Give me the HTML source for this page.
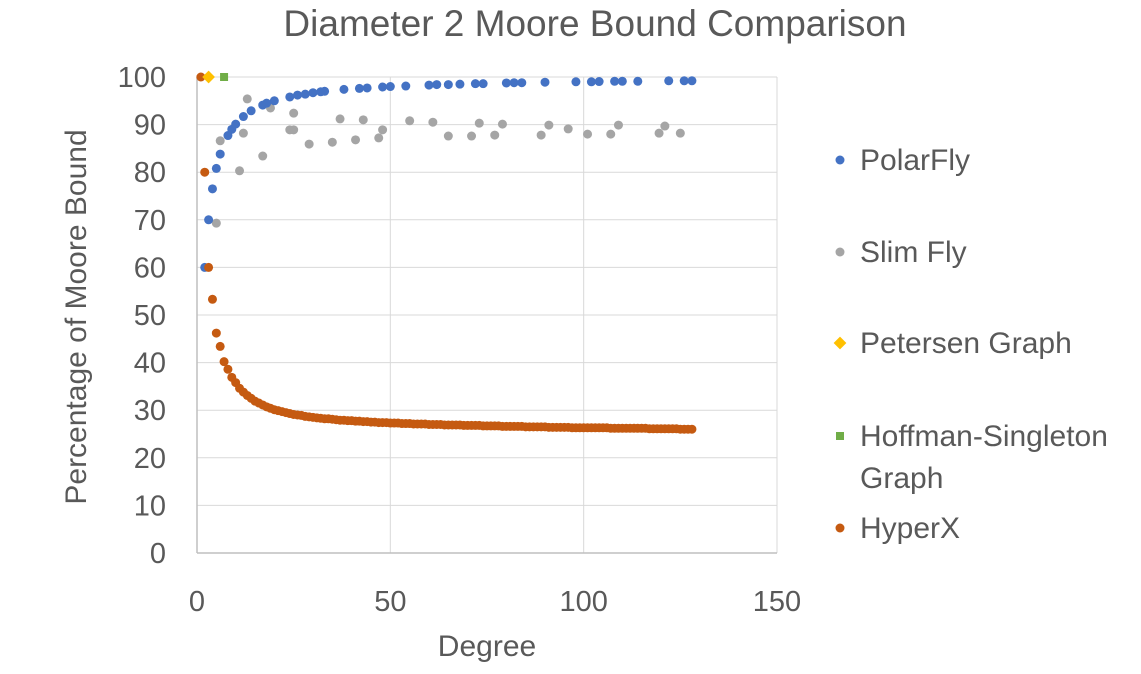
<!DOCTYPE html>
<html><head><meta charset="utf-8"><style>
body{margin:0;background:#fff;}
svg text{font-family:"Liberation Sans",sans-serif;fill:#595959;}
</style></head><body>
<svg id="chart" width="1141" height="669" xmlns="http://www.w3.org/2000/svg">
<text x="595" y="36" text-anchor="middle" font-size="37">Diameter 2 Moore Bound Comparison</text>
<g id="grid"></g>
<g id="axes"></g>
<g id="marks"></g>
<text transform="translate(86,317) rotate(-90)" text-anchor="middle" font-size="30">Percentage of Moore Bound</text>
<text x="487" y="656" text-anchor="middle" font-size="30">Degree</text>
<g>
<g><circle cx="840" cy="160" r="4.5" fill="#4472C4"/><text x="860" y="170" font-size="30">PolarFly</text></g>
<g><circle cx="840" cy="252" r="4.5" fill="#A5A5A5"/><text x="860" y="262" font-size="30">Slim Fly</text></g>
<g><rect x="835.5" y="338.5" width="9" height="9" transform="rotate(45 840 343)" fill="#FFC000"/><text x="860" y="353" font-size="30">Petersen Graph</text></g>
<g><rect x="836" y="432" width="8" height="8" fill="#70AD47"/><text x="860" y="446" font-size="30">Hoffman-Singleton</text><text x="860" y="488" font-size="30">Graph</text></g>
<g><circle cx="840" cy="528" r="4.5" fill="#C55A11"/><text x="860" y="538" font-size="30">HyperX</text></g>
</g>
</svg>
<script>
const xTicks=[0,50,100,150];
const yTicks=[0,10,20,30,40,50,60,70,80,90,100];
const polarDeg=[2,3,4,5,6,8,9,10,12,14,17,18,20,24,26,28,30,32,33,38,42,44,48,50,54,60,62,65,68,72,74,80,82,84,90,98,102,104,108,110,114,122,126,128];
const polarVal=[60,70,76.5,80.8,83.8,87.7,89,90.1,91.7,92.9,94.1,94.5,95,95.8,96.2,96.4,96.7,96.9,97,97.4,97.6,97.7,97.9,98,98.1,98.3,98.4,98.4,98.5,98.6,98.6,98.75,98.8,98.8,98.9,99,99,99.05,99.1,99.1,99.1,99.2,99.2,99.2];
const slimDeg=[5,6,11,12,13,17,19,24,25,25,29,35,37,41,43,47,48,55,61,65,71,73,77,79,89,91,96,101,107,109,119.5,121,125];
const slimVal=[69.3,86.6,80.3,88.2,95.4,83.4,93.5,88.9,92.4,88.9,85.9,86.3,91.2,86.8,91,87.2,88.9,90.8,90.5,87.6,87.6,90.3,87.8,90.1,87.8,89.9,89.1,88,88,89.9,88.2,89.7,88.2];
const petersenDeg=[3];const petersenVal=[100];
const hoffmanDeg=[7];const hoffmanVal=[100];
const hyperVal=[100,80,60,53.3,46.2,43.4,40.2,38.6,36.9,35.8,34.6,33.8,33.1,32.5,31.9,31.5,31.1,30.7,30.4,30.1,29.9,29.7,29.5,29.3,29.1,29.0,28.9,28.7,28.6,28.5,28.4,28.3,28.2,28.2,28.1,28.0,27.9,27.9,27.8,27.8,27.7,27.7,27.6,27.6,27.5,27.5,27.4,27.4,27.4,27.3,
27.3,27.3,27.2,27.2,27.2,27.1,27.1,27.1,27.1,27.0,27.0,27.0,27.0,26.9,26.9,26.9,26.9,26.9,26.8,26.8,
26.8,26.8,26.8,26.7,26.7,26.7,26.7,26.7,26.6,26.6,26.6,26.6,26.6,26.6,26.5,26.5,26.5,26.5,26.5,26.5,
26.4,26.4,26.4,26.4,26.4,26.4,26.3,26.3,26.3,26.3,26.3,26.3,26.3,26.3,26.3,26.3,26.2,26.2,26.2,26.2,
26.2,26.2,26.2,26.2,26.2,26.2,26.1,26.1,26.1,26.1,26.1,26.1,26.1,26.1,26.0,26.0,26.0,26.0];
const X0=197,X1=777,Y0=553,Y1=77;
function xs(d){return X0+(X1-X0)*d/150;}
function ys(v){return Y0-(Y0-Y1)*v/100;}
const NS='http://www.w3.org/2000/svg';
function mk(tag,attrs,parent){const e=document.createElementNS(NS,tag);for(const k in attrs)e.setAttribute(k,attrs[k]);parent.appendChild(e);return e;}
const grid=document.getElementById('grid'),axes=document.getElementById('axes'),marks=document.getElementById('marks');
yTicks.forEach(t=>{
  if(t>0){const l=mk('line',{x1:X0,x2:X1,y1:ys(t),y2:ys(t),stroke:'#D9D9D9','stroke-width':1},grid);
  
  }
  const tx=mk('text',{x:166,y:ys(t)+10,'text-anchor':'end','font-size':29},axes);tx.textContent=t;
  
  
});
xTicks.forEach(t=>{
  if(t>0){const l=mk('line',{x1:xs(t),x2:xs(t),y1:Y1,y2:Y0,stroke:'#D9D9D9','stroke-width':1},grid);
  
  }
  const tx=mk('text',{x:xs(t),y:611,'text-anchor':'middle','font-size':29},axes);tx.textContent=t;
  
  
});
const ya=mk('line',{x1:X0,x2:X0,y1:Y1,y2:Y0,stroke:'#BFBFBF','stroke-width':1.5},axes);


const xa=mk('line',{x1:X0,x2:X1,y1:Y0,y2:Y0,stroke:'#BFBFBF','stroke-width':1.5},axes);


function dots(ds,vs,color,name){ds.forEach((d,i)=>{const c=mk('circle',{cx:xs(d),cy:ys(vs[i]),r:4.5,fill:color},marks);
  
  });}
dots(slimDeg,slimVal,'#A5A5A5','slim-fly-point');
dots(polarDeg,polarVal,'#4472C4','polarfly-point');
dots(hyperVal.map((v,i)=>i+1),hyperVal,'#C55A11','hyperx-point');
petersenDeg.forEach((d,i)=>{const r=mk('rect',{x:xs(d)-4.5,y:ys(petersenVal[i])-4.5,width:9,height:9,fill:'#FFC000',transform:`rotate(45 ${xs(d)} ${ys(petersenVal[i])})`},marks);
  
  });
hoffmanDeg.forEach((d,i)=>{const r=mk('rect',{x:xs(d)-4,y:ys(hoffmanVal[i])-4,width:8,height:8,fill:'#70AD47'},marks);
  
  });
</script>
</body></html>
